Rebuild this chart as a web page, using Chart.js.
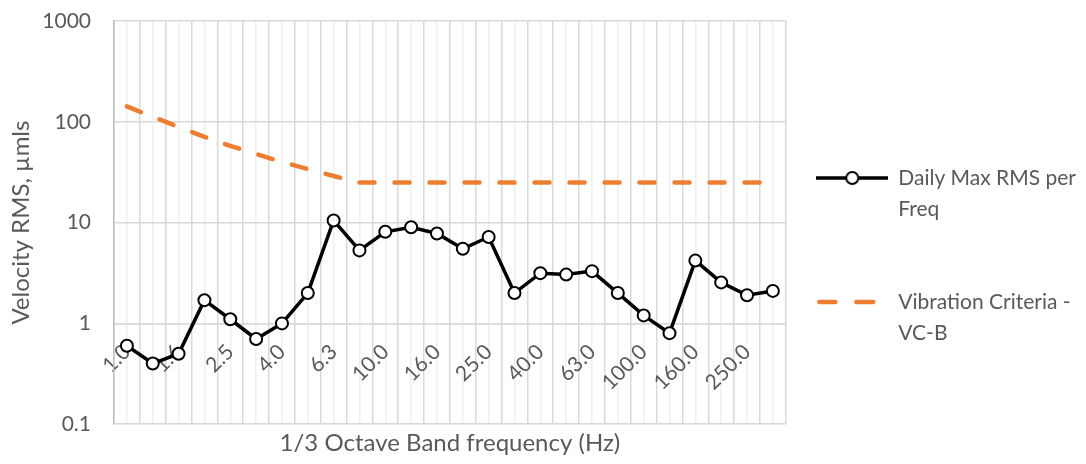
<!DOCTYPE html>
<html>
<head>
<meta charset="utf-8">
<title>Velocity RMS per 1/3 octave band</title>
<script src="https://cdn.jsdelivr.net/npm/chart.js@4/dist/chart.umd.min.js"></script>
<style>
  html, body { margin: 0; padding: 0; background: #fff; }
  #wrap { width: 1086px; height: 464px; position: relative; }
</style>
</head>
<body>
<div id="wrap"><canvas id="chart"></canvas></div>
<script>
// 1/3 octave band centre frequencies (Hz)
const bands = ['1.0', '1.25', '1.6', '2.0', '2.5', '3.15', '4.0', '5.0', '6.3', '8.0', '10.0', '12.5', '16.0',
    '20.0', '25.0', '31.5', '40.0', '50.0', '63.0', '80.0', '100.0', '125.0', '160.0', '200.0', '250.0', '315.0'];

// Daily max RMS velocity per band (um/s)
const dailyMax = [0.6, 0.4, 0.5, 1.7, 1.1, 0.7, 1.0, 2.0, 10.5, 5.3, 8.1, 9.0, 7.8,
    5.5, 7.2, 2.0, 3.15, 3.05, 3.3, 2.0, 1.2, 0.8, 4.2, 2.55, 1.9, 2.1];

// VC-B vibration criterion (um/s)
const vcB = [142, 112, 89, 71, 57.6, 48, 40, 34, 29, 25, 25, 25, 25,
    25, 25, 25, 25, 25, 25, 25, 25, 25, 25, 25, 25, 25];

const yTicks = [0.1, 1, 10, 100, 1000];

const legendLines = [
    ['Daily Max RMS per', 'Freq', ''],
    ['Vibration Criteria -', 'VC-B']
];
const xTitle = '1/3 Octave Band frequency (Hz)';
const yTitle = 'Velocity RMS, \u00b5mls';

const grey = '#595959';
const gridGrey = '#d9d9d9';
const orange = '#ED7D31';
const baseFont = { family: 'Lato', size: 21, weight: 'normal' };
const titleFont = { family: 'Lato', size: 24, weight: 'normal' };

// small pictures used as legend symbols
function legendIcon(kind) {
    const c = document.createElement('canvas');
    c.width = 72;
    c.height = 16;
    const g = c.getContext('2d');
    if (kind === 'marker') {
        g.strokeStyle = '#000';
        g.lineWidth = 3.5;
        g.beginPath();
        g.moveTo(0, 8);
        g.lineTo(72, 8);
        g.stroke();
        g.fillStyle = '#fff';
        g.lineWidth = 2;
        g.beginPath();
        g.arc(36, 8, 6, 0, Math.PI * 2);
        g.fill();
        g.stroke();
    } else {
        g.strokeStyle = orange;
        g.lineWidth = 4.5;
        g.lineCap = 'round';
        g.beginPath();
        g.moveTo(3, 8);
        g.lineTo(19, 8);
        g.moveTo(40, 8);
        g.lineTo(57, 8);
        g.stroke();
    }
    return c;
}
const icons = [legendIcon('marker'), legendIcon('dash')];

new Chart(document.getElementById('chart'), {
    type: 'line',
    data: {
        labels: bands,
        datasets: [
            {
                label: legendLines[0].join(' '),
                data: dailyMax,
                borderColor: '#000',
                borderWidth: 3.5,
                pointRadius: 6,
                pointBackgroundColor: '#fff',
                pointBorderColor: '#000',
                pointBorderWidth: 2,
                tension: 0
            },
            {
                label: legendLines[1].join(' '),
                data: vcB,
                borderColor: orange,
                borderWidth: 4.5,
                borderDash: [15, 20],
                borderCapStyle: 'round',
                pointRadius: 0,
                tension: 0
            }
        ]
    },
    options: {
        responsive: true,
        maintainAspectRatio: false,
        animation: false,
        layout: { padding: { top: 21, right: 0, bottom: 0, left: 0 } },
        scales: {
            x: {
                type: 'category',
                offset: true,
                position: { y: 1 },
                grid: { offset: true, color: gridGrey, lineWidth: 1.5, drawTicks: false },
                border: { display: true, color: gridGrey, width: 1.5 },
                ticks: {
                    autoSkip: false,
                    minRotation: 45,
                    maxRotation: 45,
                    padding: 16,
                    color: grey,
                    font: baseFont,
                    callback: (v, i) => (i % 2 === 0 ? bands[i] : '')
                }
            },
            // lighter lines through the band centres
            xMinor: {
                type: 'category',
                offset: true,
                position: { y: 0.1 },
                grid: { offset: false, color: '#efefef', lineWidth: 1.5, drawTicks: false },
                border: { display: false },
                ticks: { display: false }
            },
            y: {
                type: 'logarithmic',
                min: 0.1,
                max: 1000,
                afterBuildTicks: scale => {
                    scale.ticks = yTicks.map(v => ({ value: v }));
                },
                afterFit: scale => {
                    scale.width = 114;
                    scale.paddingTop = 12;
                    scale.paddingBottom = 12;
                },
                grid: { color: gridGrey, lineWidth: 1.5, drawTicks: false },
                border: { color: '#bfbfbf', width: 1.5 },
                ticks: { color: grey, font: baseFont, padding: 23, callback: v => String(v) },
                title: { display: true, text: yTitle, color: grey, font: titleFont, padding: { top: 7, bottom: 0 } }
            }
        },
        plugins: {
            title: {
                display: true,
                position: 'bottom',
                fullSize: false,
                text: xTitle,
                color: grey,
                font: titleFont,
                padding: { top: 5, bottom: 6 }
            },
            legend: {
                position: 'right',
                align: 'center',
                maxWidth: 320,
                title: { display: true, text: ' ', font: { size: 30 }, padding: 0 },
                labels: {
                    usePointStyle: true,
                    pointStyleWidth: 71,
                    boxHeight: 16,
                    padding: 31,
                    color: grey,
                    font: { family: 'Lato', size: 21, lineHeight: '31px' },
                    generateLabels: chart => Chart.defaults.plugins.legend.labels.generateLabels(chart)
                        .map((item, i) => Object.assign(item, { text: legendLines[i], pointStyle: icons[i] }))
                }
            },
            tooltip: { enabled: false }
        }
    }
});
</script>
</body>
</html>
